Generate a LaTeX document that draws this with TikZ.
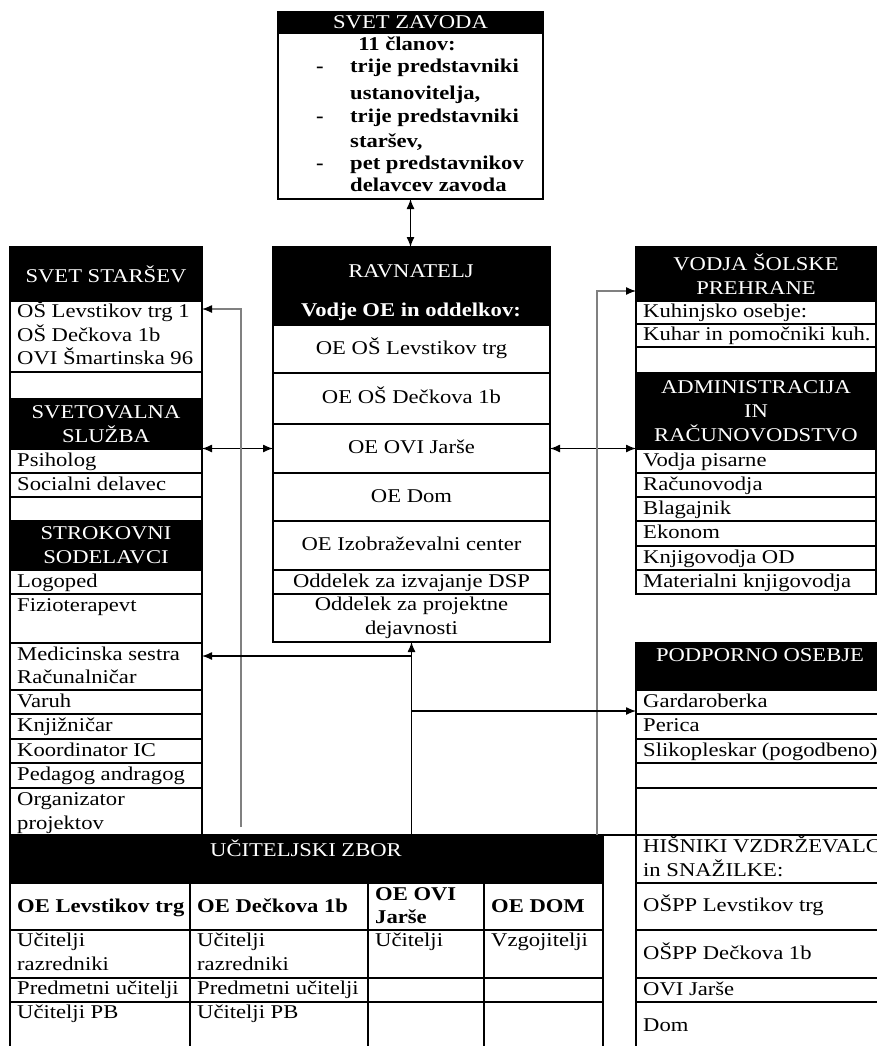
\documentclass[tikz,border=0pt]{standalone}
\usepackage{fontspec}
\setmainfont{Liberation Serif}[FakeStretch=1.16]
\usetikzlibrary{arrows.meta}

\tikzset{
  box/.style={draw, line width=1.1pt, inner sep=0pt, outer sep=0pt, anchor=north west},
  hdr/.style={box, fill=black, text=white, align=center},
  crow/.style={box, minimum width=277pt, text height=14pt, text depth=4pt},
  txt/.style={anchor=west, inner sep=0pt, text height=14pt, text depth=4pt},
  wtxt/.style={text=white, inner sep=0pt},
  link/.style={line width=1.3pt, -{Latex[length=10pt,width=8pt]}},
  link2/.style={line width=1.3pt, {Latex[length=10pt,width=8pt]}-{Latex[length=10pt,width=8pt]}},
  feed/.style={line width=1.3pt, draw=black!50, -{Latex[length=10pt,width=8pt,color=black]}},
}

\begin{document}
\begin{tikzpicture}[x=1pt,y=-1pt,font=\fontsize{19.5}{24}\selectfont]
\useasboundingbox (0,0) rectangle (877,1046);
\clip (0,0) rectangle (877,1046);

% svet zavoda
\node[hdr, minimum width=265pt, minimum height=21pt] (zhd) at (278,12) {SVET ZAVODA};
\node[box, minimum width=265pt, minimum height=166pt] (zav) at (278,33) {};
\node[txt, anchor=center] (zt0) at (407,46) {\textbf{11 članov:}};
\foreach \y/\t [count=\i] in {68/trije predstavniki,95/{ustanovitelja,},117/trije predstavniki,142/{staršev,},164/pet predstavnikov,186/delavcev zavoda}
  \node[txt] (zt\i) at (350,\y) {\textbf{\t}};
\foreach \y [count=\i] in {68,117,164}
  \node[txt, anchor=center] (zd\i) at (320,\y) {\textbf{-}};

% ravnatelj
\node[hdr, minimum width=277pt, minimum height=78pt] (rhd) at (273,247) {};
\node[wtxt, text height=14pt, text depth=4pt] (rt1) at (411,272) {RAVNATELJ};
\node[wtxt, text height=14pt, text depth=4pt] (rt2) at (411,311) {\textbf{Vodje OE in oddelkov:}};
\foreach \nm/\ya/\yb/\t in {c1/325/373/OE OŠ Levstikov trg,c2/373/424/OE OŠ Dečkova 1b,ovi/424/473/OE OVI Jarše,c4/473/521/OE Dom,c5/521/570/OE Izobraževalni center,c6/570/594/Oddelek za izvajanje DSP}
  \node[crow, minimum height={(\yb-\ya)*1pt}] (\nm) at (273,\ya) {\t};
\node[box, minimum width=277pt, minimum height=48pt, align=center] (proj) at (273,594) {Oddelek za projektne\\dejavnosti};

% left column
\node[hdr, minimum width=192pt, minimum height=54pt] (sshd) at (10,247) {SVET STARŠEV};
\node[hdr, minimum width=192pt, minimum height=50pt] (svhd) at (10,399) {SVETOVALNA\\SLUŽBA};
\node[hdr, minimum width=192pt, minimum height=49pt] (sthd) at (10,521) {STROKOVNI\\SODELAVCI};
\foreach \nm/\ya/\yb in {ssb/301/372,le1/372/399,le2/497/521,fiz/594/643,med/643/690,org/788/835}
  \node[box, minimum width=192pt, minimum height={(\yb-\ya)*1pt}] (\nm) at (10,\ya) {};
\foreach \nm/\ya/\yb/\t in {psi/449/473/Psiholog,soc/473/497/Socialni delavec,log/570/594/Logoped,var/690/714/Varuh,knj/714/739/Knjižničar,koo/739/763/Koordinator IC,ped/763/788/Pedagog andragog}{
  \node[box, minimum width=192pt, minimum height={(\yb-\ya)*1pt}] (\nm) at (10,\ya) {};
  \node[txt] (\nm-t) at ([xshift=7pt]\nm.west) {\t};
}
\foreach \y/\t [count=\i] in {312/OŠ Levstikov trg 1,336/OŠ Dečkova 1b,359/OVI Šmartinska 96,606/Fizioterapevt,655/Medicinska sestra,678/Računalničar,800/Organizator,824/projektov}
  \node[txt] (lt\i) at (17,\y) {\t};

% right column
\node[hdr, minimum width=240pt, minimum height=54pt] (vdhd) at (636,247) {VODJA ŠOLSKE\\PREHRANE};
\node[box, minimum width=240pt, minimum height=26pt] (re1) at (636,347) {};
\node[hdr, minimum width=240pt, minimum height=76pt] (adhd) at (636,373) {ADMINISTRACIJA\\IN\\RAČUNOVODSTVO};
\foreach \nm/\ya/\yb/\t in {kuh/301/324/Kuhinjsko osebje:,kuhp/324/347/Kuhar in pomočniki kuh.,vp/449/473/Vodja pisarne,rac/473/497/Računovodja,blag/497/521/Blagajnik,ekon/521/546/Ekonom,kod/546/570/Knjigovodja OD,mat/570/594/Materialni knjigovodja}{
  \node[box, minimum width=240pt, minimum height={(\yb-\ya)*1pt}] (\nm) at (636,\ya) {};
  \node[txt] (\nm-t) at ([xshift=7pt]\nm.west) {\t};
}
\node[hdr, minimum width=260pt, minimum height=47pt] (pohd) at (636,643) {};
\node[wtxt, text height=14pt, text depth=4pt] (pot) at (760,656) {PODPORNO OSEBJE};
\foreach \nm/\ya/\yb in {re2/763/788,re3/788/835,his/835/883}
  \node[box, minimum width=260pt, minimum height={(\yb-\ya)*1pt}] (\nm) at (636,\ya) {};
\foreach \nm/\ya/\yb/\t in {gard/690/714/Gardaroberka,per/714/739/Perica,slik/739/763/{Slikopleskar (pogodbeno)},os1/883/930/OŠPP Levstikov trg,os2/930/978/OŠPP Dečkova 1b,ovj/978/1002/OVI Jarše,dom/1002/1050/Dom}{
  \node[box, minimum width=260pt, minimum height={(\yb-\ya)*1pt}] (\nm) at (636,\ya) {};
  \node[txt] (\nm-t) at ([xshift=7pt]\nm.west) {\t};
}
\node[txt] (ht1) at (643,847) {HIŠNIKI VZDRŽEVALCI};
\node[txt] (ht2) at (643,871) {in SNAŽILKE:};

% uciteljski zbor
\node[hdr, minimum width=593pt, minimum height=48pt] (zbor) at (10,835) {};
\node[wtxt, text height=14pt, text depth=4pt] (zbt) at (306,851) {UČITELJSKI ZBOR};
\foreach \xa/\xb [count=\c] in {10/190,190/368,368/484,484/603}
  \foreach \ya/\yb [count=\r] in {883/930,930/978,978/1002,1002/1050}
    \node[box, minimum width={(\xb-\xa)*1pt}, minimum height={(\yb-\ya)*1pt}] (u\r\c) at (\xa,\ya) {};
\draw[line width=1.1pt] (zbor.north east) -- (zbor.north east -| his.west);
\foreach \x/\y/\t [count=\i] in {17/907/\textbf{OE Levstikov trg},197/907/\textbf{OE Dečkova 1b},375/895/\textbf{OE OVI},375/918/\textbf{Jarše},491/907/\textbf{OE DOM},17/941/Učitelji,17/965/razredniki,197/941/Učitelji,197/965/razredniki,375/941/Učitelji,491/941/Vzgojitelji,17/989/Predmetni učitelji,197/989/Predmetni učitelji,17/1013/Učitelji PB,197/1013/Učitelji PB}
  \node[txt] (ut\i) at (\x,\y) {\t};

% connectors
\draw[link2] (zav.south) -- (zav.south |- rhd.north);
\draw[link2] (ovi.west) -- (ovi.west -| svhd.east);
\draw[link2] (ovi.east) -- (ovi.east -| adhd.west);
\coordinate (lfoot) at (241,827);
\coordinate (rfoot) at (597,835);
\draw[feed] (lfoot) |- ([yshift=-8pt]ssb.north east);
\draw[feed] (rfoot) |- ([yshift=10pt]vdhd.south west);
\draw[link] (zbor.north -| proj.south) -- (proj.south);
\coordinate (medin) at ([yshift=-13pt]med.north east);
\coordinate (gardin) at ([yshift=3pt]gard.south west);
\draw[link] (medin -| proj.south) -- (medin);
\draw[link] (gardin -| proj.south) -- (gardin);
\end{tikzpicture}
\end{document}
